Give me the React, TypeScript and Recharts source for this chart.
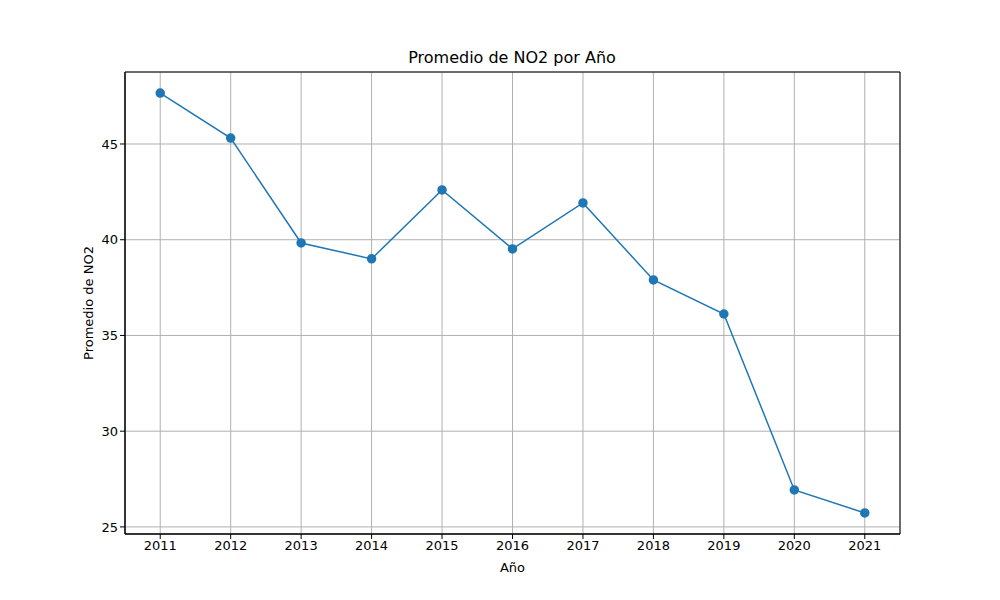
import React from 'react';
import { LineChart, Line, XAxis, YAxis, CartesianGrid, ReferenceArea } from 'recharts';

const years = [2011, 2012, 2013, 2014, 2015, 2016, 2017, 2018, 2019, 2020, 2021];
const no2 = [47.66, 45.31, 39.83, 39.0, 42.6, 39.52, 41.92, 37.9, 36.12, 26.93, 25.73];
const yTicks = [25, 30, 35, 40, 45];

const data = years.map((year, i) => ({ year, value: no2[i] }));

const X_DOMAIN: [number, number] = [2010.5, 2021.5];
const Y_DOMAIN: [number, number] = [24.63, 48.76];
const font = 'DejaVu Sans, sans-serif';

export default function App() {
  return (
    <div style={{ position: 'absolute', left: 0, top: 0, width: 1000, height: 600, background: '#fff', fontFamily: font }}>
      <div style={{ position: 'absolute', top: 48, width: 1000, textAlign: 'center', left: 12, fontSize: 16 }}>
        Promedio de NO2 por Año
      </div>
      <LineChart width={1000} height={600} data={data} margin={{ top: 72, right: 100, left: 65, bottom: 26 }}>
        <CartesianGrid stroke="#b0b0b0" strokeWidth={1} />
        <XAxis
          type="number"
          dataKey="year"
          domain={X_DOMAIN}
          ticks={years}
          height={40}
          stroke="#000"
          tick={{ fill: '#000', fontSize: 13, fontFamily: font }}
          tickSize={5}
          label={{ value: 'Año', position: 'insideBottom', offset: 2, fill: '#000', fontSize: 13, fontFamily: font }}
        />
        <YAxis
          type="number"
          domain={Y_DOMAIN}
          ticks={yTicks}
          width={60}
          stroke="#000"
          tick={{ fill: '#000', fontSize: 13, fontFamily: font }}
          tickSize={5}
          label={{ value: 'Promedio de NO2', angle: -90, position: 'insideLeft', offset: 23, fill: '#000', fontSize: 13, fontFamily: font, style: { textAnchor: 'middle' } }}
        />
        <ReferenceArea x1={X_DOMAIN[0]} x2={X_DOMAIN[1]} y1={Y_DOMAIN[0]} y2={Y_DOMAIN[1]} fill="none" stroke="#000" strokeOpacity={1} ifOverflow="visible" />
        <Line
          type="linear"
          dataKey="value"
          stroke="#1f77b4"
          strokeWidth={1.5}
          dot={{ r: 4, fill: '#1f77b4', stroke: '#1f77b4' }}
          isAnimationActive={false}
        />
      </LineChart>
    </div>
  );
}
